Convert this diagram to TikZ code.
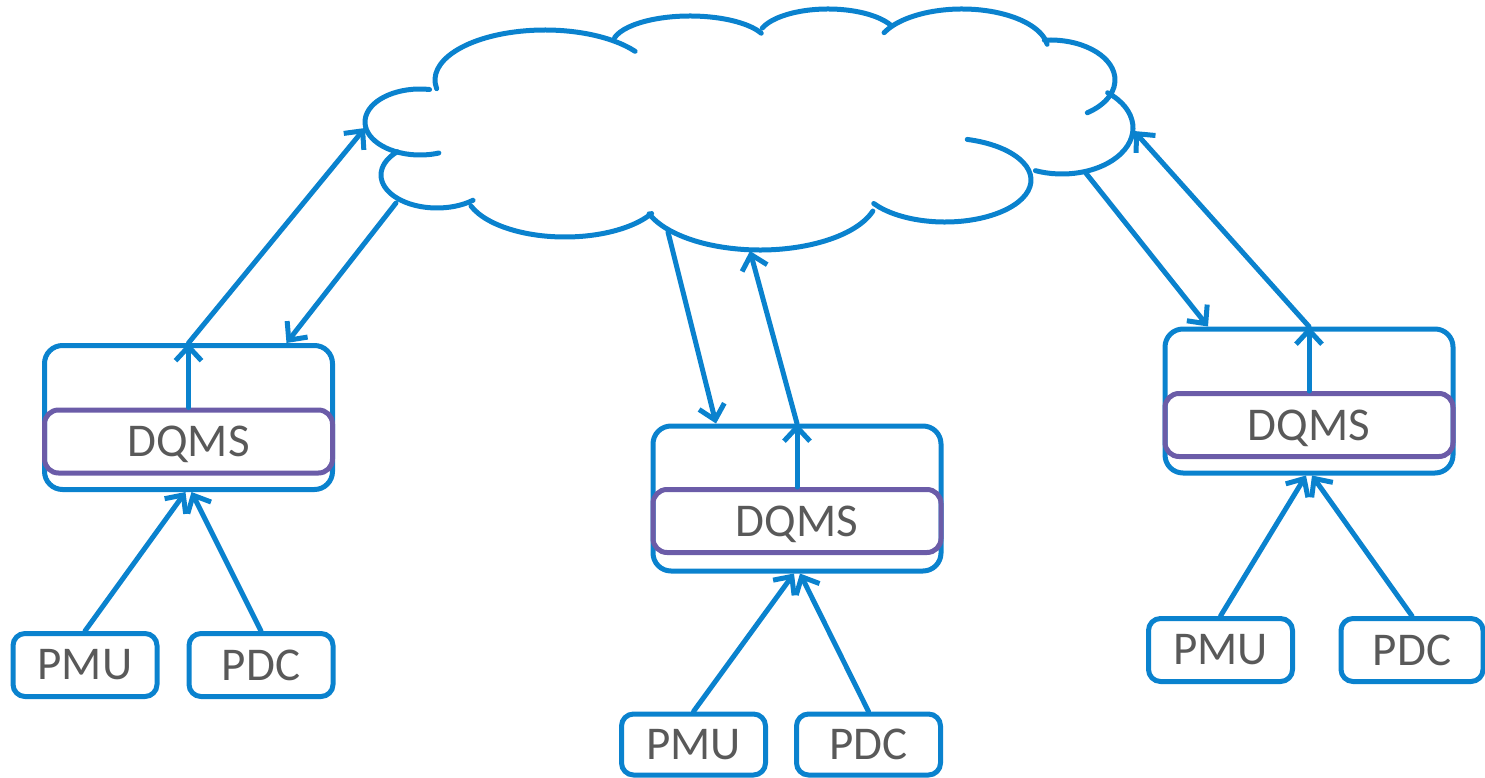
\documentclass[tikz,border=0pt]{standalone}
\usepackage{fontspec}
\setmainfont{Carlito}
\usetikzlibrary{arrows.meta}
\definecolor{netblue}{HTML}{0A82CE}
\definecolor{qmspurple}{HTML}{6B5CA8}
\definecolor{labelgray}{HTML}{595959}
\begin{document}
\begin{tikzpicture}[x=1pt,y=-1pt,>={Straight Barb[length=14pt,width=26pt]},line join=round,line cap=round,
    unit/.style={draw=netblue,line width=5pt,rounded corners=18pt,minimum width=288pt,minimum height=144pt,inner sep=0pt},
    qms/.style={draw=qmspurple,line width=5pt,rounded corners=14pt,minimum width=288pt,minimum height=63pt,inner sep=0pt,text depth=0pt,text=labelgray,font=\fontsize{47}{56}\selectfont},
    dev/.style={draw=netblue,line width=5pt,rounded corners=12pt,minimum width=144pt,minimum height=63pt,inner sep=0pt,text=labelgray,font=\fontsize{47}{56}\selectfont},
    link/.style={netblue,line width=5pt}]
        \useasboundingbox (0,0) rectangle (1485,778);
        %%
        %% cloud, one lobe at a time
        \draw [link] (420,122) ++(80:55pt and 33pt) arc [start angle=80, end angle=290, x radius=55pt, y radius=33pt];
        \draw [link] (545,80) ++(190:110pt and 50pt) arc [start angle=190, end angle=35, x radius=110pt, y radius=50pt];
        \draw [link] (690,45) ++(165:78pt and 29pt) arc [start angle=165, end angle=24, x radius=78pt, y radius=29pt];
        \draw [link] (828,38) ++(160:70pt and 29pt) arc [start angle=160, end angle=25, x radius=70pt, y radius=29pt];
        \draw [link] (962,50) ++(155:86pt and 41pt) arc [start angle=155, end angle=8, x radius=86pt, y radius=41pt];
        \draw [link] (1050,80) ++(95:65pt and 40pt) arc [start angle=95, end angle=-55, x radius=65pt, y radius=40pt];
        \draw [link] (1062,128) ++(50:71pt and 46pt) arc [start angle=50, end angle=-112, x radius=71pt, y radius=46pt];
        \draw [link] (945,180) ++(75:86pt and 42pt) arc [start angle=75, end angle=-146, x radius=86pt, y radius=42pt];
        \draw [link] (760,195) ++(-17:118pt and 55pt) arc [start angle=-17, end angle=-160, x radius=118pt, y radius=55pt];
        \draw [link] (565,190) ++(-30:100pt and 47pt) arc [start angle=-30, end angle=-160, x radius=100pt, y radius=47pt];
        \draw [link] (437,175) ++(135:56pt and 33pt) arc [start angle=135, end angle=310, x radius=56pt, y radius=33pt];
        \coordinate (cloud_w) at (365,128);
        \coordinate (cloud_sw) at (396,203);
        \coordinate (cloud_s1) at (668,232);
        \coordinate (cloud_s2) at (750,251);
        \coordinate (cloud_se) at (1085,172);
        \coordinate (cloud_e) at (1134,131);
        %%
        \node (unit_1) at (188.5,417.5) [unit] {};
        \node (qms_1) at (188.5,441.5) [qms] {DQMS};
        \node (pmu_1) at (85,665) [dev] {PMU};
        \node (pdc_1) at (261,665) [dev] {PDC};
        \node (unit_2) at (797,498.5) [unit,minimum height=145pt] {};
        \node (qms_2) at (797,521) [qms] {DQMS};
        \node (pmu_2) at (693.5,744.5) [dev,minimum height=61pt] {PMU};
        \node (pdc_2) at (868.5,744.5) [dev,minimum height=61pt] {PDC};
        \node (unit_3) at (1309,401) [unit] {};
        \node (qms_3) at (1309,425) [qms] {DQMS};
        \node (pmu_3) at (1220.5,650) [dev] {PMU};
        \node (pdc_3) at (1412,650) [dev,minimum width=142pt] {PDC};
        %%
        \draw [link,->] (qms_1.north) -- (unit_1.north);
        \draw [link,->] (unit_1.north) -- (cloud_w);
        \draw [link,->] (cloud_sw) -- ([xshift=98pt]unit_1.north);
        \draw [link,->] (pmu_1.north) -- ([xshift=-3pt]unit_1.south);
        \draw [link,->] (pdc_1.north) -- ([xshift=3pt]unit_1.south);
        \draw [link,->] (qms_2.north) -- (unit_2.north);
        \draw [link,->] (unit_2.north) -- (cloud_s2);
        \draw [link,->] (cloud_s1) -- ([xshift=-81pt]unit_2.north);
        \draw [link,->] (pmu_2.north) -- ([xshift=-3pt]unit_2.south);
        \draw [link,->] (pdc_2.north) -- ([xshift=3pt]unit_2.south);
        \draw [link,->] (qms_3.north) -- (unit_3.north);
        \draw [link,->] (unit_3.north) -- (cloud_e);
        \draw [link,->] (cloud_se) -- ([xshift=-101pt]unit_3.north);
        \draw [link,->] (pmu_3.north) -- ([xshift=-3pt]unit_3.south);
        \draw [link,->] (pdc_3.north) -- ([xshift=3pt]unit_3.south);
        %
\end{tikzpicture}
\end{document}
